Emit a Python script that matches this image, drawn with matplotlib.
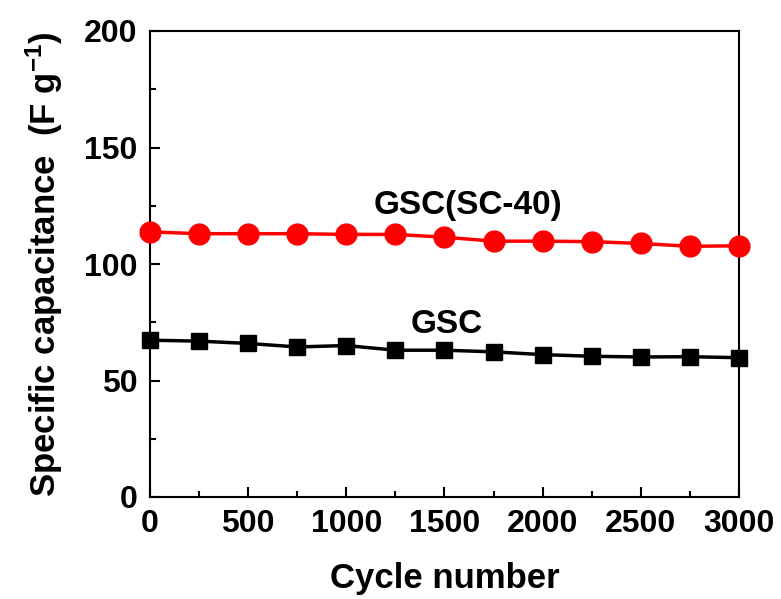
import matplotlib
matplotlib.use("Agg")
import matplotlib.pyplot as plt
from matplotlib.ticker import MultipleLocator

plt.rcParams['font.family'] = ['Liberation Sans', 'DejaVu Sans']
plt.rcParams['font.weight'] = 'bold'
plt.rcParams['mathtext.fontset'] = 'custom'
plt.rcParams['mathtext.bf'] = 'Liberation Sans:bold'
plt.rcParams['mathtext.rm'] = 'Liberation Sans:bold'
plt.rcParams['mathtext.default'] = 'bf'

cycles = [0, 250, 500, 750, 1000, 1250, 1500, 1750, 2000, 2250, 2500, 2750, 3000]
gsc_sc40 = [113.8, 113.0, 113.0, 113.0, 112.7, 112.7, 111.5, 109.8, 109.8, 109.6, 108.8, 107.6, 107.8]
gsc = [67.3, 66.9, 65.9, 64.4, 65.0, 63.0, 63.0, 62.3, 61.1, 60.4, 60.1, 60.2, 59.8]

fig = plt.figure(figsize=(7.81, 5.99), dpi=100)
ax = fig.add_axes([150/781, 1-497/599, 589/781, 466/599])

ax.plot(cycles, gsc_sc40, color='#ff0000', lw=2.5, marker='o', ms=15, zorder=3, clip_on=False)
ax.plot(cycles, gsc, color='black', lw=2.5, marker='s', ms=12, zorder=3, clip_on=False)

ax.text(1620, 125, 'GSC(SC-40)', fontsize=24, fontweight='bold', ha='center', va='center')
ax.text(1513, 74, 'GSC', fontsize=24, fontweight='bold', ha='center', va='center')

ax.set_xlim(0, 3000)
ax.set_ylim(0, 200)
ax.xaxis.set_major_locator(MultipleLocator(500))
ax.xaxis.set_minor_locator(MultipleLocator(250))
ax.yaxis.set_major_locator(MultipleLocator(50))
ax.yaxis.set_minor_locator(MultipleLocator(25))
ax.tick_params(which='both', direction='in', top=False, right=False, width=1.5)
ax.tick_params(which='major', length=7, labelsize=23, pad=9)
ax.tick_params(which='minor', length=4)
for lab in ax.get_xticklabels() + ax.get_yticklabels():
    lab.set_fontweight('bold')
for s in ax.spines.values():
    s.set_linewidth(1.5)

ax.set_xlabel('Cycle number', fontsize=25, fontweight='bold', labelpad=16)
ax.set_ylabel(r'Specific capacitance  (F g$^{-1}$)', fontsize=25, fontweight='bold', labelpad=14)

fig.savefig('out.png', dpi=100)
